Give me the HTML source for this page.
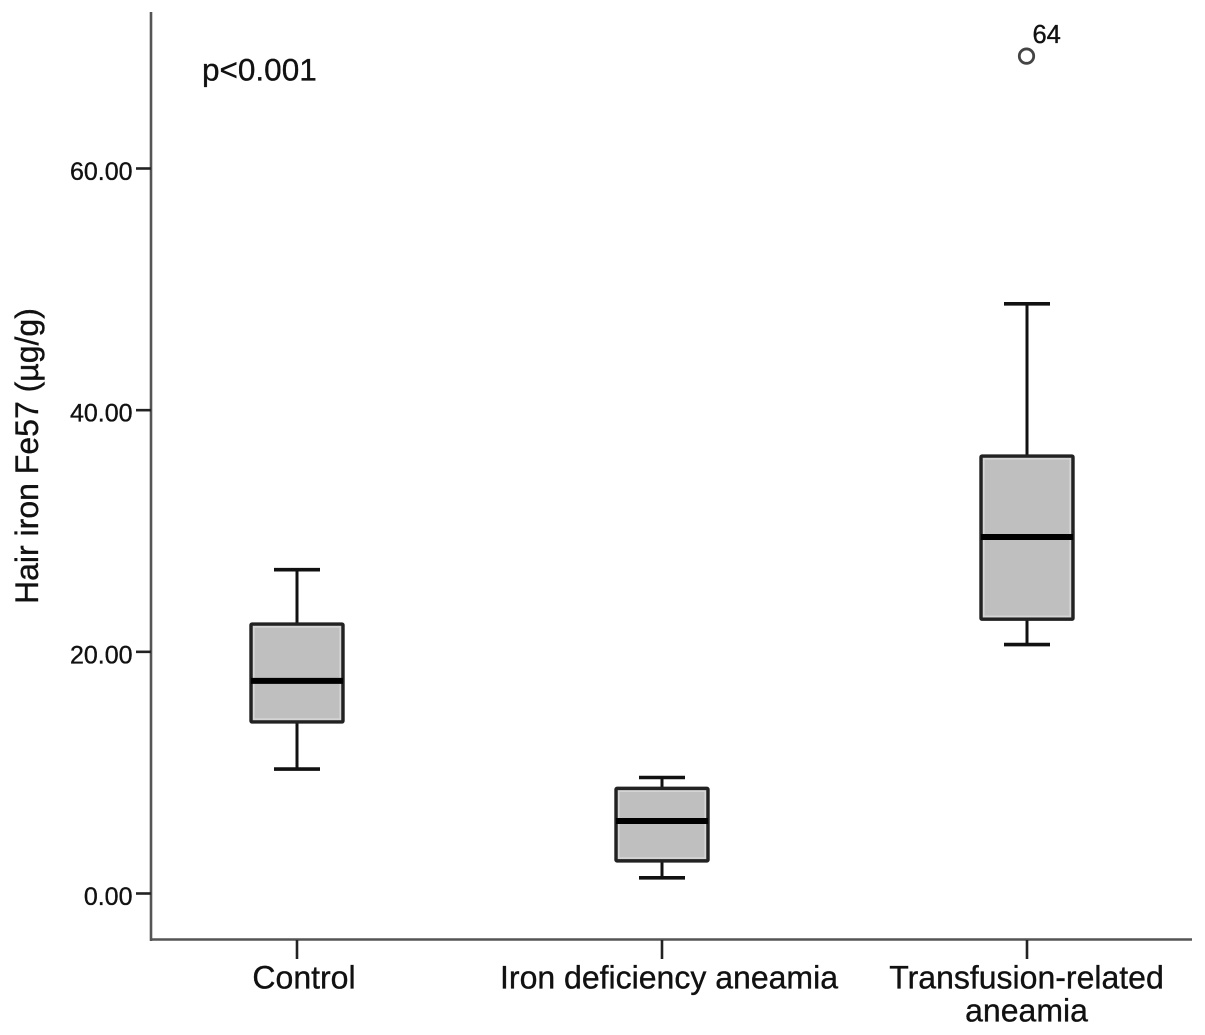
<!DOCTYPE html>
<html lang="en">
<head>
<meta charset="utf-8">
<title>Hair iron Fe57 boxplot</title>
<style>
html,body{margin:0;padding:0;background:#fff;width:1205px;height:1035px;overflow:hidden}
svg{display:block}
text{font-family:"Liberation Sans",Arial,sans-serif;fill:#111;stroke:#111;stroke-width:0.35px}
</style>
</head>
<body>
<svg id="chart" xmlns="http://www.w3.org/2000/svg" width="1205" height="1035" viewBox="0 0 1205 1035">
<rect width="1205" height="1035" fill="#fff"/>
<text transform="translate(38 604) rotate(-90)" font-size="32">Hair iron Fe57 (µg/g)</text>
<text x="202" y="80.5" font-size="31.5">p&lt;0.001</text>
</svg>
<script>
const categories = [["Control"], ["Iron deficiency aneamia"], ["Transfusion-related", "aneamia"]];
const whiskerLow = [10.3, 1.3, 20.6];
const quartile1 = [14.2, 2.7, 22.7];
const medians = [17.6, 6.0, 29.5];
const quartile3 = [22.3, 8.7, 36.2];
const whiskerHigh = [26.8, 9.6, 48.8];
const outlierValues = [null, null, 69.3];
const outlierLabels = [null, null, "64"];
const yTicks = [0, 20, 40, 60];
const yTickLabels = ["0.00", "20.00", "40.00", "60.00"];

const svg = document.getElementById('chart');
const NS = 'http://www.w3.org/2000/svg';
function yScale(v) { return 893.5 - v * (725 / 60); }
function xScale(i) { return 297 + i * 365; }
function add(tag, attrs, parent) {
  const el = document.createElementNS(NS, tag);
  for (const k in attrs) el.setAttribute(k, attrs[k]);
  (parent || svg).appendChild(el);
  return el;
}

const yAxis = add('line', {x1: 151, x2: 151, y1: 12, y2: 941, stroke: '#555', 'stroke-width': 2.6});


const xAxis = add('line', {x1: 150, x2: 1192, y1: 939.5, y2: 939.5, stroke: '#555', 'stroke-width': 2.6});



yTicks.forEach(function (t, i) {
  const tick = add('line', {x1: 136, x2: 151, y1: yScale(t), y2: yScale(t), stroke: '#222', 'stroke-width': 2.6});
  
  
  const label = add('text', {x: 132.5, y: yScale(t) + 11.5, 'text-anchor': 'end', 'font-size': 25});
  
  
  label.textContent = yTickLabels[i];
});

categories.forEach(function (lines, i) {
  const x = xScale(i);
  const tick = add('line', {x1: x, x2: x, y1: 940, y2: 959, stroke: '#222', 'stroke-width': 2.6});
  
  
  lines.forEach(function (line, j) {
    const label = add('text', {x: lines.length > 1 ? x - 0.5 : x + 7, y: 988.5 + j * 33, 'text-anchor': 'middle', 'font-size': 32});
    
    
    label.textContent = line;
  });

  const group = add('g', {});
  
  

  const whiskerUp = add('line', {x1: x, x2: x, y1: yScale(whiskerHigh[i]), y2: yScale(quartile3[i]), stroke: '#111', 'stroke-width': 3}, group);
  
  
  const whiskerDown = add('line', {x1: x, x2: x, y1: yScale(quartile1[i]), y2: yScale(whiskerLow[i]), stroke: '#111', 'stroke-width': 3}, group);
  
  
  const capUp = add('line', {x1: x - 23, x2: x + 23, y1: yScale(whiskerHigh[i]), y2: yScale(whiskerHigh[i]), stroke: '#111', 'stroke-width': 3.6}, group);
  
  
  const capDown = add('line', {x1: x - 23, x2: x + 23, y1: yScale(whiskerLow[i]), y2: yScale(whiskerLow[i]), stroke: '#111', 'stroke-width': 3.6}, group);
  
  

  const top = yScale(quartile3[i]);
  const bottom = yScale(quartile1[i]);
  const box = add('rect', {x: x - 46, y: top, width: 92, height: bottom - top, fill: '#bfbfbf', stroke: '#222', 'stroke-width': 3.4, rx: 1}, group);
  
  
  const halo = add('rect', {x: x - 43.2, y: top + 2.8, width: 86.4, height: bottom - top - 5.6, fill: 'none', stroke: '#d6d6d6', 'stroke-width': 1.6}, group);
  
  
  const median = add('line', {x1: x - 46, x2: x + 46, y1: yScale(medians[i]), y2: yScale(medians[i]), stroke: '#000', 'stroke-width': 6}, group);
  
  

  if (outlierValues[i] !== null) {
    const point = add('circle', {cx: x - 0.5, cy: yScale(outlierValues[i]), r: 7.2, fill: '#fff', stroke: '#444', 'stroke-width': 2.8}, group);
    
    
    const outlierText = add('text', {x: x + 5.5, y: yScale(outlierValues[i]) - 13, 'font-size': 25.5}, group);
    
    
    outlierText.textContent = outlierLabels[i];
  }
});
</script>
</body>
</html>
